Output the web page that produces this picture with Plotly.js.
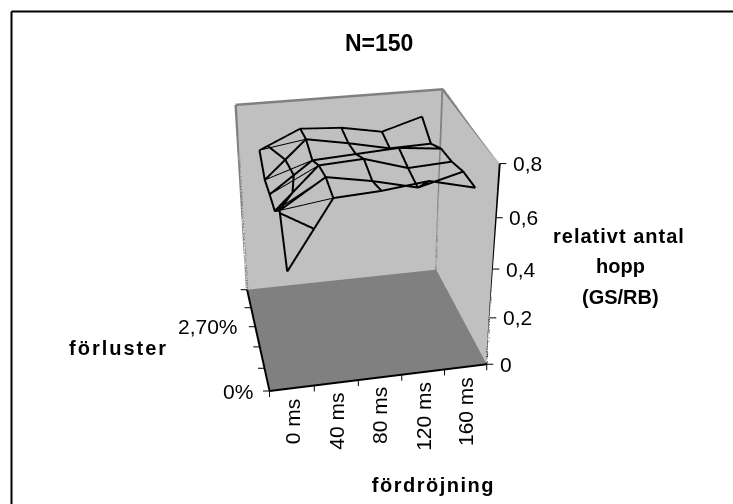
<!DOCTYPE html>
<html>
<head>
<meta charset="utf-8">
<script src="https://cdn.plot.ly/plotly-3.0.1.min.js"></script>
<style>
html,body{margin:0;padding:0;background:#fff;overflow:hidden;width:733px;height:504px}
#chart{position:absolute;left:0;top:-198px;width:733px;height:900px}
</style>
</head>
<body>
<div id="chart"></div>
<script>
// Delay categories along the front axis, loss levels along the depth axis
const delays = [0, 40, 80, 120, 160];
const delayLabels = ['0 ms', '40 ms', '80 ms', '120 ms', '160 ms'];
const losses = [0, 0.9, 1.8, 2.7, 3.6, 4.5];
const lossLabels = ['0%', '', '', '2,70%', '', ''];
const heights = [0, 0.2, 0.4, 0.6, 0.8];
const heightLabels = ['0', '0,2', '0,4', '0,6', '0,8'];

// Relative number of hops, one row per loss level
const loss0 = [0.475, 0.73, 0.74, 0.76, 0.72];
const loss1 = [0.632, 0.74, 0.71, 0.67, 0.715];
const loss2 = [0.56, 0.72, 0.73, 0.68, 0.69];
const loss3 = [0.557, 0.677, 0.687, 0.697, 0.68];
const loss4 = [0.55, 0.70, 0.67, 0.635, 0.64];
const loss5 = [0.61, 0.685, 0.675, 0.645, 0.695];
const hops = [loss0, loss1, loss2, loss3, loss4, loss5];

const contourLevel = 0.625;
const xRange = [-20, 180];
const yRange = [0, 4.5];
const zRange = [0, 0.8];
const xEdges = [-20, 20, 60, 100, 140, 180];

const font = 'Liberation Sans, Arial, sans-serif';

// The plot area is taller than the page so the scene gets a narrower field of view
const plotWidth = 733, plotHeight = 900, pageOffset = 198;
const paperX = px => px / plotWidth;
const paperY = py => 1 - (py + pageOffset) / plotHeight;

// Wireframe: one polyline per row and per column of the grid
const wx = [], wy = [], wz = [];
hops.forEach((row, r) => {
  row.forEach((v, c) => { wx.push(delays[c]); wy.push(losses[r]); wz.push(v); });
  wx.push(null); wy.push(null); wz.push(null);
});
delays.forEach((d, c) => {
  hops.forEach((row, r) => { wx.push(d); wy.push(losses[r]); wz.push(row[c]); });
  wx.push(null); wy.push(null); wz.push(null);
});

// Level line: linear crossing on each cell edge, joined pairwise within the cell
const cx = [], cy = [], cz = [];
function crossing(c0, r0, c1, r1) {
  const a = hops[r0][c0], b = hops[r1][c1];
  if ((a - contourLevel) * (b - contourLevel) > 0 || a === b) return null;
  const t = (contourLevel - a) / (b - a);
  return [delays[c0] + t * (delays[c1] - delays[c0]), losses[r0] + t * (losses[r1] - losses[r0])];
}
for (let r = 0; r < losses.length - 1; r++) {
  for (let c = 0; c < delays.length - 1; c++) {
    const hits = [crossing(c, r, c + 1, r), crossing(c, r + 1, c + 1, r + 1),
                  crossing(c, r, c, r + 1), crossing(c + 1, r, c + 1, r + 1)].filter(Boolean);
    if (hits.length === 2) {
      hits.forEach(p => { cx.push(p[0]); cy.push(p[1]); cz.push(contourLevel); });
      cx.push(null); cy.push(null); cz.push(null);
    }
  }
}

// Thin cell diagonals in the first column of cells
const dx = [], dy = [], dz = [];
for (let r = 0; r < losses.length - 1; r++) {
  dx.push(delays[0], delays[1], null);
  dy.push(losses[r + 1], losses[r], null);
  dz.push(hops[r + 1][0], hops[r][1], null);
}

// Grey edges of the two walls
const ex = [xRange[0], xRange[0], xRange[1], xRange[1], null, xRange[1], xRange[1]];
const ey = [yRange[1], yRange[1], yRange[1], yRange[0], null, yRange[1], yRange[1]];
const ez = [zRange[0], zRange[1], zRange[1], zRange[1], null, zRange[1], zRange[0]];

const lineTrace = (x, y, z, color, width) => ({
  type: 'scatter3d', mode: 'lines', x, y, z, hoverinfo: 'skip', showlegend: false,
  line: {color, width}
});

const traces = [
  lineTrace(ex, ey, ez, '#808080', 5),
  lineTrace(dx, dy, dz, '#000000', 2),
  lineTrace(cx, cy, cz, '#000000', 4),
  lineTrace(wx, wy, wz, '#000000', 4),
  // Height axis on the right front edge
  lineTrace([xRange[1], xRange[1]], [yRange[0], yRange[0]], zRange, '#000000', 4)
];

const axisBase = {
  showgrid: false, zeroline: false, showspikes: false, showticklabels: false,
  showline: true, linecolor: '#000000', linewidth: 4, ticks: '', tickmode: 'array',
  title: {text: ''}, showbackground: true
};

// Tick marks and labels anchored in data space so they follow the scene projection
const tickFont = {family: font, size: 21, color: '#000000'};
const tickMark = (x, y, z, ax, ay) => ({
  x, y, z, text: ' ', showarrow: true, arrowhead: 0, arrowwidth: 1, arrowcolor: '#000000',
  ax, ay, standoff: 0, startstandoff: 0, font: {size: 1}
});
const sceneNotes = [];
xEdges.forEach(e => sceneNotes.push(tickMark(e, 0, 0, 0, 8)));
losses.forEach(l => sceneNotes.push(tickMark(xRange[0], l, 0, -8, 0)));
heights.forEach(h => sceneNotes.push(tickMark(xRange[1], 0, h, 8, 0)));
delays.forEach((d, i) => sceneNotes.push({
  x: d, y: 0, z: 0, text: delayLabels[i], textangle: -90, showarrow: false,
  font: tickFont, xanchor: 'center', yanchor: 'top', yshift: -8
}));
losses.forEach((l, i) => { if (lossLabels[i]) sceneNotes.push({
  x: xRange[0], y: l, z: 0, text: lossLabels[i], showarrow: false,
  font: tickFont, xanchor: 'right', yanchor: 'middle', xshift: -15
}); });
heights.forEach((h, i) => sceneNotes.push({
  x: xRange[1], y: 0, z: h, text: heightLabels[i], showarrow: false,
  font: tickFont, xanchor: 'left', yanchor: 'middle', xshift: 11
}));

const boldNote = (text, px, py, size) => ({
  xref: 'paper', yref: 'paper', x: paperX(px), y: paperY(py), text: '<b>' + text + '</b>',
  xanchor: 'center', yanchor: 'middle',
  showarrow: false, font: {family: font, size: size || 20, color: '#000000'}
});

const layout = {
  width: plotWidth, height: plotHeight,
  margin: {l: 0, r: 0, t: 0, b: 0},
  paper_bgcolor: '#ffffff',
  showlegend: false,
  hovermode: false,
  scene: {
    domain: {x: [0, 1], y: [0, 1]},
    aspectmode: 'manual',
    aspectratio: {x: 1.96, y: 1.74, z: 1.97},
    camera: {
      eye: {x: -1.73, y: -8.52, z: 4.62},
      center: {x: 0.06, y: 0, z: -0.2},
      up: {x: 0, y: 0, z: 1}
    },
    xaxis: Object.assign({}, axisBase, {range: xRange, backgroundcolor: '#c0c0c0'}),
    yaxis: Object.assign({}, axisBase, {range: yRange, backgroundcolor: '#c0c0c0'}),
    zaxis: Object.assign({}, axisBase, {range: zRange, backgroundcolor: '#808080', showline: false}),
    annotations: sceneNotes
  },
  shapes: [
    {type: 'line', xref: 'paper', yref: 'paper', x0: paperX(11.5), x1: 1, y0: paperY(11.5), y1: paperY(11.5), line: {color: '#000000', width: 2}},
    {type: 'line', xref: 'paper', yref: 'paper', x0: paperX(11.5), x1: paperX(11.5), y0: paperY(510), y1: paperY(11.5), line: {color: '#000000', width: 2}}
  ],
  annotations: [
    boldNote('N=150', 379, 43, 23),
    boldNote('förluster', 118, 348),
    boldNote('fördröjning', 433, 485),
    boldNote('relativt antal', 619, 236),
    boldNote('hopp', 620, 266),
    boldNote('(GS/RB)', 620, 297)
  ]
};

// Wider tracking on some of the captions
const tracking = {'förluster': '2px', 'fördröjning': '1.5px', 'relativt antal': '1px'};
function applyTracking(gd) {
  gd.querySelectorAll('.annotation text').forEach(el => {
    const t = tracking[el.textContent];
    if (t) el.style.letterSpacing = t;
  });
}
Plotly.newPlot('chart', traces, layout, {displayModeBar: false}).then(applyTracking);
</script>
</body>
</html>
